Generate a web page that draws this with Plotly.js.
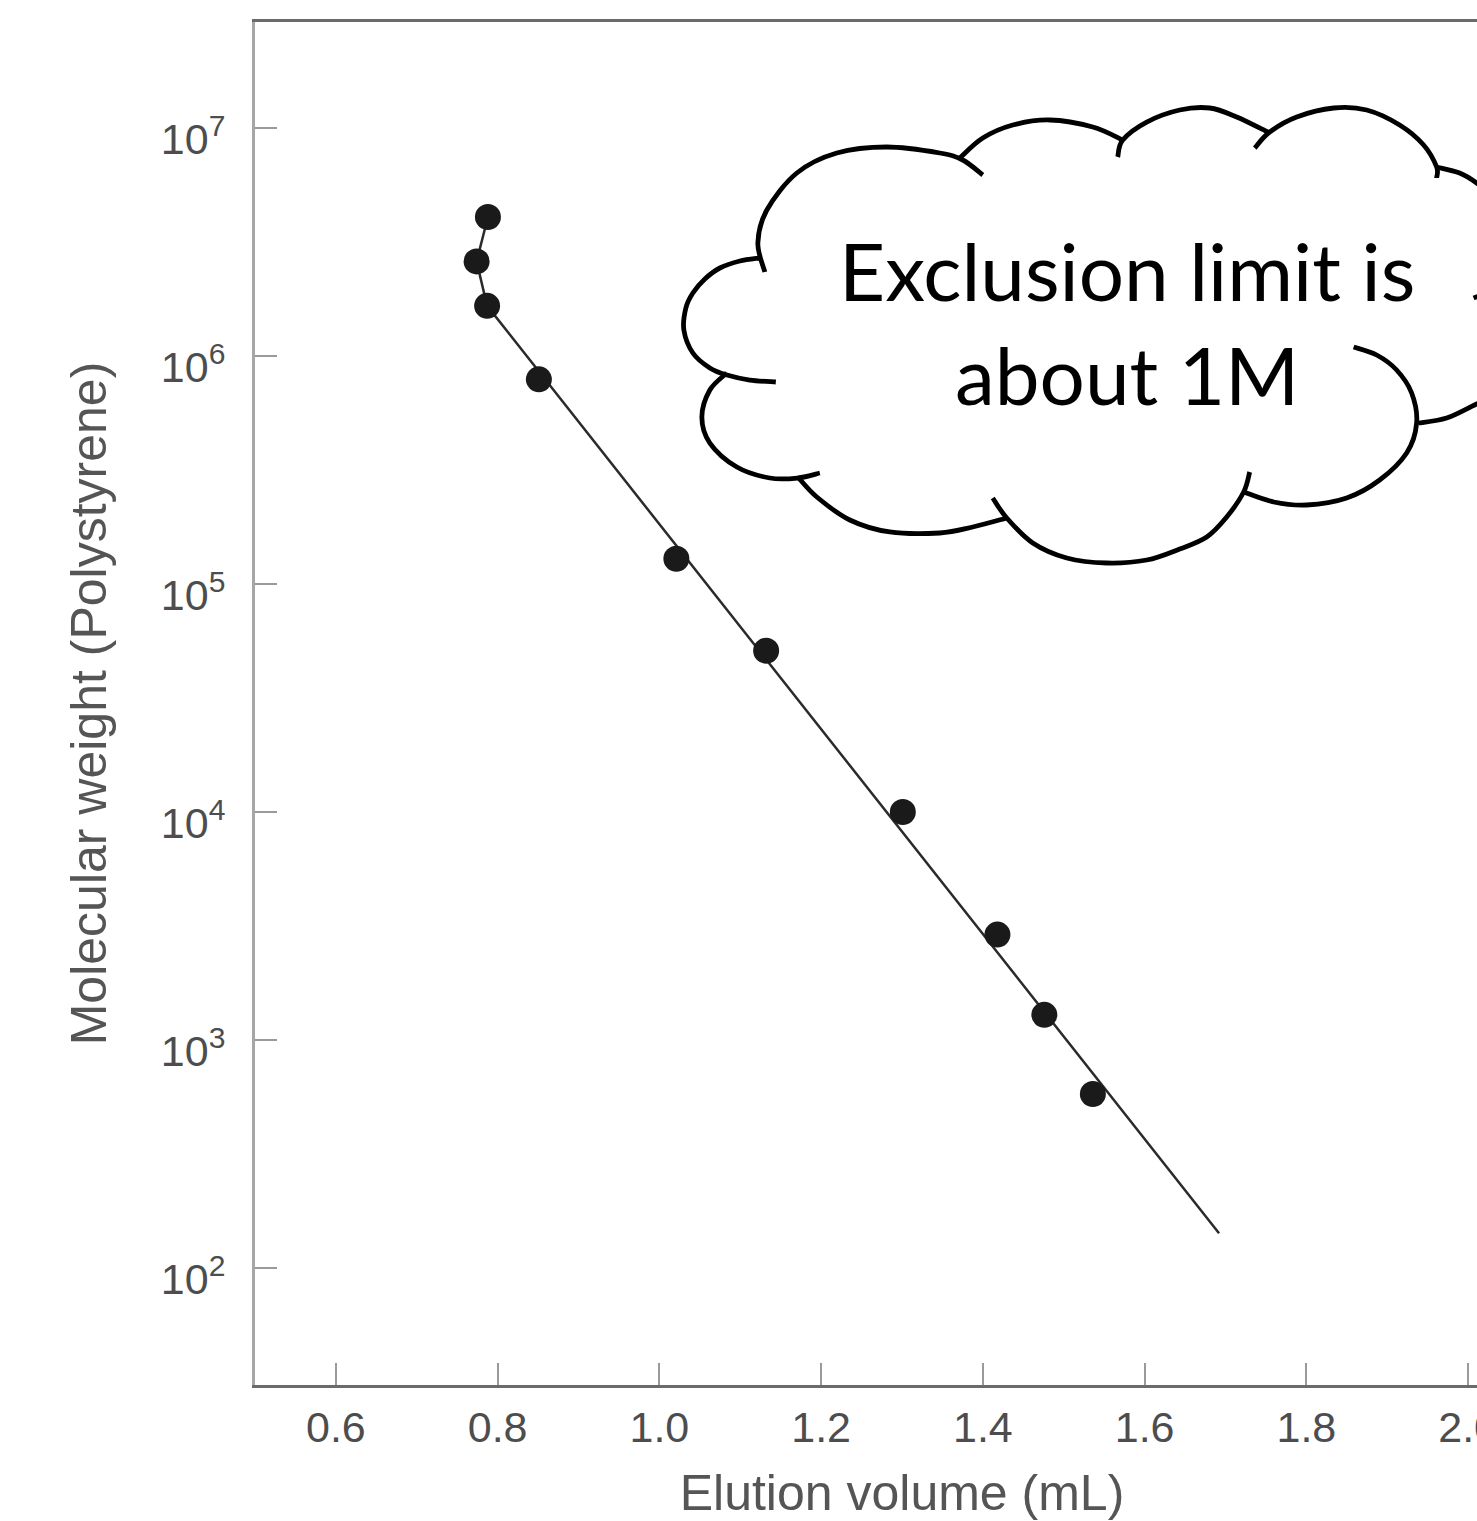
<!DOCTYPE html>
<html><head><meta charset="utf-8">
<script src="https://cdn.plot.ly/plotly-3.0.1.min.js"></script>
<style>html,body{margin:0;padding:0;overflow:hidden;background:#fff;} #chart{width:1580px;height:1521px;}</style>
</head><body><div id="chart"></div>
<script>
// ---- data ----
const elutionVolume   = [0.788, 0.774, 0.787, 0.851, 1.021, 1.132, 1.301, 1.418, 1.476, 1.536];
const molecularWeight = [4.07e6, 2.6e6, 1.66e6, 7.9e5, 1.29e5, 5.1e4, 1.0e4, 2.9e3, 1.29e3, 580];
const curveVolume     = [0.788, 0.774, 0.787, 1.692];
const curveWeight     = [4.07e6, 2.6e6, 1.66e6, 142];
const xTickVals = [0.6, 0.8, 1.0, 1.2, 1.4, 1.6, 1.8, 2.0];
const xTickText = ['0.6', '0.8', '1.0', '1.2', '1.4', '1.6', '1.8', '2.0'];
const yTickVals = [1e2, 1e3, 1e4, 1e5, 1e6, 1e7];
const yTickText = ['10<sup>2</sup>', '10<sup>3</sup>', '10<sup>4</sup>', '10<sup>5</sup>', '10<sup>6</sup>', '10<sup>7</sup>'];
const xTitle = 'Elution volume (mL)';
const yTitle = 'Molecular weight (Polystyrene)';
const calloutText = 'Exclusion limit is<br>about 1M';

// ---- cloud callout geometry (decoration, in figure pixels) ----
const plotL = 255, plotT = 22, plotW = 1294.4, plotH = 1363;
const PX = v => (v - plotL) / plotW;
const PY = v => (plotT + plotH - v) / plotH;
const lobes = [
  {p: [[776,382],[750,380],[727,375],[710,368],[693,353],[684,330],[686,308],[693,293],[705,279],[720,268],[740,261],[760,258]], a: 2, b: 11},
  {p: [[765,272],[758,243],[767,210],[797,173],[837,153],[887,147],[940,153],[963,160],[983,175]], a: 1, b: 7},
  {p: [[960,158],[983,138],[1013,125],[1050,120],[1093,127],[1123,140]], a: 0, b: 5},
  {p: [[1118,157],[1123,140],[1147,122],[1180,110],[1210,108],[1237,117],[1268,132]], a: 1, b: 6},
  {p: [[1255,148],[1270,132],[1297,117],[1334,108],[1367,110],[1400,125],[1424,145],[1437,167],[1437,178]], a: 1, b: 7},
  {p: [[1437,167],[1460,173],[1477,183],[1497,200],[1510,225],[1512,255],[1502,280],[1488,292],[1474,298]], a: 0, b: 6},
  {p: [[1505,275],[1525,295],[1535,330],[1528,365],[1508,390],[1477,404],[1447,418],[1419,423]], a: 0, b: 7},
  {p: [[1354,347],[1377,355],[1397,370],[1412,393],[1417,423],[1407,453],[1380,480],[1347,498],[1307,505],[1274,502],[1244,492]], a: 4, b: 10},
  {p: [[1250,472],[1244,492],[1227,517],[1207,537],[1180,549],[1147,560],[1107,563],[1067,558],[1033,543],[1007,518],[993,498]], a: 1, b: 9},
  {p: [[1007,518],[973,527],[940,533],[890,532],[850,520],[817,497],[798,477]], a: 0, b: 6},
  {p: [[820,473],[798,478],[770,478],[737,467],[710,443],[702,417],[710,390],[727,373]], a: 1, b: 7}
];
function curve(pts, start) {
  let d = start + PX(pts[0][0]).toFixed(5) + ',' + PY(pts[0][1]).toFixed(5);
  for (let i = 0; i < pts.length - 1; i++) {
    const p0 = pts[i - 1] || pts[i], p1 = pts[i], p2 = pts[i + 1], p3 = pts[i + 2] || pts[i + 1];
    const c1 = [p1[0] + (p2[0] - p0[0]) / 6, p1[1] + (p2[1] - p0[1]) / 6];
    const c2 = [p2[0] - (p3[0] - p1[0]) / 6, p2[1] - (p3[1] - p1[1]) / 6];
    d += ' C' + PX(c1[0]).toFixed(5) + ',' + PY(c1[1]).toFixed(5) + ' ' +
         PX(c2[0]).toFixed(5) + ',' + PY(c2[1]).toFixed(5) + ' ' +
         PX(p2[0]).toFixed(5) + ',' + PY(p2[1]).toFixed(5);
  }
  return d;
}
let fillPath = '';
lobes.forEach((lb, i) => { fillPath += (i === 0 ? '' : ' ') + curve(lb.p.slice(lb.a, lb.b + 1), i === 0 ? 'M' : 'L'); });
fillPath += ' Z';
const shapes = [{type: 'path', xref: 'paper', yref: 'paper', path: fillPath, fillcolor: '#ffffff', line: {width: 0}, layer: 'above'}];
lobes.forEach(lb => shapes.push({type: 'path', xref: 'paper', yref: 'paper', path: curve(lb.p, 'M'),
  fillcolor: 'rgba(0,0,0,0)', line: {color: '#000000', width: 4.8}, layer: 'above'}));

const traces = [
  {x: curveVolume, y: curveWeight, mode: 'lines', line: {color: '#2b2b2b', width: 2.5}, hoverinfo: 'skip', showlegend: false},
  {x: elutionVolume, y: molecularWeight, mode: 'markers', marker: {size: 26, color: '#1a1a1a'}, showlegend: false}
];

const tickFont = {family: '"Liberation Sans", Arial, sans-serif', size: 43, color: '#4d4d4d'};
const titleFont = {family: '"Liberation Sans", Arial, sans-serif', size: 50, color: '#555555'};

const layout = {
  width: 1580, height: 1521,
  margin: {l: 255, r: 1580 - 255 - 1294.4, t: 22, b: 136},
  paper_bgcolor: '#ffffff', plot_bgcolor: '#ffffff',
  showlegend: false,
  xaxis: {
    range: [0.5, 2.1], tickmode: 'array', tickvals: xTickVals, ticktext: xTickText,
    ticks: 'inside', ticklen: 22, tickwidth: 2, tickcolor: '#9a9a9a',
    showline: true, linecolor: '#6b6b6b', linewidth: 3, mirror: true,
    showgrid: false, zeroline: false, tickfont: tickFont, ticklabelstandoff: 2,
    title: {text: xTitle, font: titleFont, standoff: 32}
  },
  yaxis: {
    type: 'log', range: [1.487, 7.465], tickmode: 'array', tickvals: yTickVals, ticktext: yTickText,
    ticks: 'inside', ticklen: 22, tickwidth: 2, tickcolor: '#9a9a9a',
    showline: true, linecolor: '#a6a6a6', linewidth: 3, mirror: true,
    showgrid: false, zeroline: false, tickfont: tickFont, ticklabelstandoff: 18, ticklabelshift: 11,
    title: {text: yTitle, font: titleFont, standoff: 39}
  },
  shapes: shapes,
  annotations: [{xref: 'paper', yref: 'paper', x: PX(1127), y: PY(322), xanchor: 'center', yanchor: 'middle',
    text: calloutText, showarrow: false, align: 'center',
    font: {family: 'Lato, "Open Sans", sans-serif', size: 80, color: '#000000'}}]
};
Plotly.newPlot('chart', traces, layout, {displayModeBar: false, staticPlot: true});
</script></body></html>
